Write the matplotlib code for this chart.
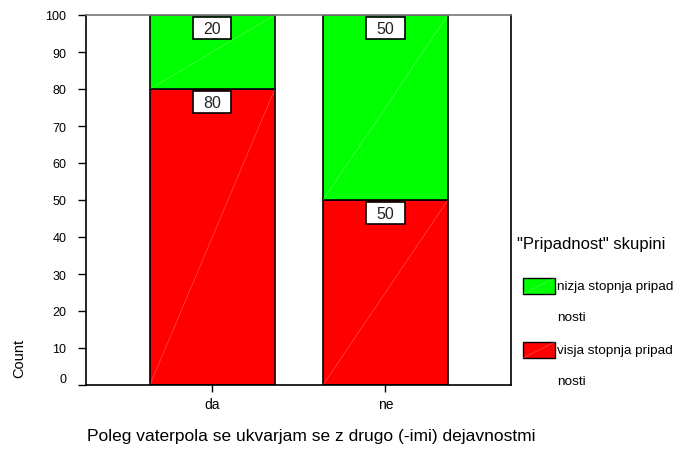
import matplotlib

matplotlib.use("Agg")
import matplotlib.pyplot as plt
import matplotlib.transforms as mtransforms
from matplotlib.patches import Rectangle

plt.rcParams["font.family"] = ["Liberation Sans", "DejaVu Sans"]

categories = ["da", "ne"]
visja = [80, 50]
nizja = [20, 50]
series_names = ["nizja stopnja pripad\nnosti", "visja stopnja pripad\nnosti"]
legend_title = '"Pripadnost" skupini'
x_label = "Poleg vaterpola se ukvarjam se z drugo (-imi) dejavnostmi"
y_label = "Count"
green = "#00ff00"
red = "#ff0000"

W, H = 677, 452
fig = plt.figure(figsize=(W / 100, H / 100), dpi=100)
ax = fig.add_axes([86 / W, 1 - 386 / H, 425 / W, 370 / H])

xs = list(range(len(categories)))
width = 0.722
ax.bar(xs, visja, width, color=red, edgecolor="black", linewidth=1.2)
ax.bar(xs, nizja, width, bottom=visja, color=green, edgecolor="black", linewidth=1.2)

# faint diagonals SPSS draws inside each segment
for x, lo, hi in zip(xs, visja, nizja):
    for b, t in ((0, lo), (lo, lo + hi)):
        ax.plot([x - width / 2, x + width / 2], [b, t], color="white", lw=0.5, alpha=0.3)

# value boxes near top of each segment
bw, bh, gap = 0.22, 5.95, 0.55
for x, lo, hi in zip(xs, visja, nizja):
    for val, top in ((lo, lo), (hi, lo + hi)):
        ax.add_patch(Rectangle((x - bw / 2, top - gap - bh), bw, bh, facecolor="white",
                               edgecolor="black", linewidth=1.2, zorder=4))
        ax.text(x, top - gap - bh / 2, str(val), ha="center", va="center", fontsize=11.5,
                color="#222222", zorder=5)

ax.set_xlim(-0.73, 1.725)
ax.set_ylim(0, 100)
ax.set_yticks(range(0, 101, 10))
ax.set_xticks(xs)
ax.set_xticklabels(categories)
ax.tick_params(axis="y", direction="out", length=6, width=1, labelsize=9, pad=8)
ax.tick_params(axis="x", direction="out", length=5, width=1, labelsize=10, pad=4)
for s in ax.spines.values():
    s.set_linewidth(1.2)
ax.spines["top"].set_color("#777777")

# the "0" label sits a little above its tick, as in the original
fig.canvas.draw()
zero = ax.get_yticklabels()[0]
zero.set_transform(zero.get_transform() + mtransforms.ScaledTranslation(0, 7 / 100, fig.dpi_scale_trans))

fig.text(19 / W, 1 - 358 / H, y_label, rotation=90, ha="center", va="center", fontsize=10.5)
fig.text(87 / W, 1 - 437 / H, x_label, ha="left", va="center", fontsize=12.5)

# legend
fig.text(517 / W, 1 - 245 / H, legend_title, ha="left", va="center", fontsize=12)
for (y0, color, name) in ((279, green, series_names[0]), (343, red, series_names[1])):
    fig.patches.append(Rectangle((523 / W, 1 - (y0 + 16) / H), 32 / W, 16 / H, facecolor=color,
                                 edgecolor="black", linewidth=1, transform=fig.transFigure))
    fig.lines.append(plt.Line2D([523 / W, 555 / W], [1 - (y0 + 16) / H, 1 - y0 / H],
                                transform=fig.transFigure, color="white", lw=0.5, alpha=0.3))
    first, second = name.split("\n")
    fig.text(557 / W, 1 - (y0 + 8) / H, first, ha="left", va="center", fontsize=9.7)
    fig.text(557 / W, 1 - (y0 + 39) / H, second, ha="left", va="center", fontsize=9.7)

fig.savefig("out.png", dpi=100)
